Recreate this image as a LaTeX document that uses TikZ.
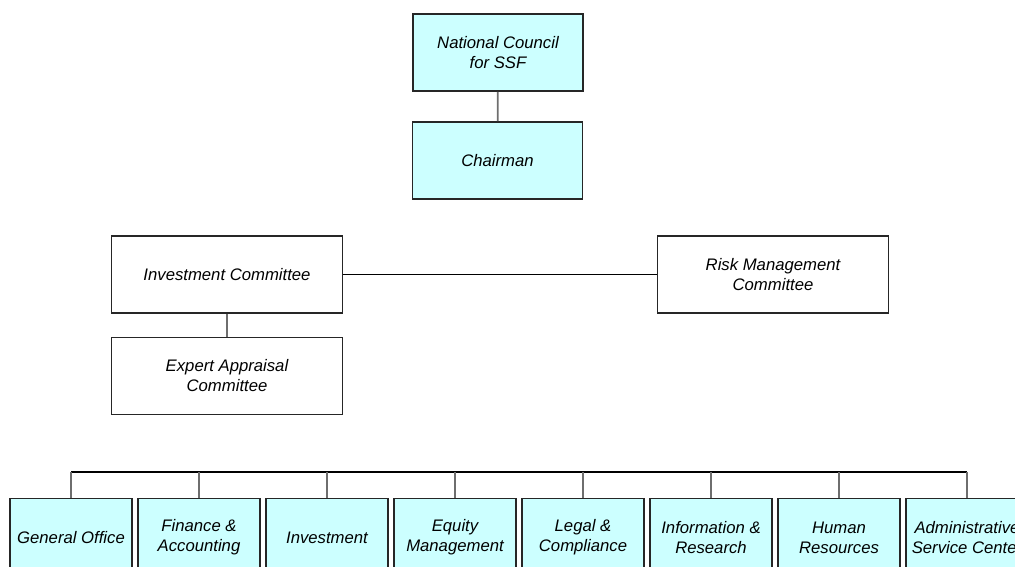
\documentclass[tikz,border=0pt]{standalone}
\usepackage{fontspec}
\setmainfont{Liberation Sans}
\usepackage{tikz}
\usetikzlibrary{positioning}
\usetikzlibrary{calc}
\definecolor{paleCyan}{HTML}{CCFFFF}
\definecolor{linkGray}{HTML}{6E6E6E}
\tikzset{
  % Common styles for the chart
  unit/.style={draw=black!85, line width=1.6pt, rectangle, inner sep=0pt, align=center,
    font=\fontsize{16.7}{20}\selectfont\itshape},
  office/.style={unit, fill=paleCyan},
  branch/.style={draw=linkGray, line width=1.7pt},
  rail/.style={draw=black, line width=1.3pt}
}

\begin{document}
\begin{tikzpicture}[x=1pt, y=-1pt]
    \useasboundingbox (0,0) rectangle (1015,567);
    \clip (0,0) rectangle (1015,567);
    % Define styles
    \tikzstyle{top} = [office, minimum width=170pt, minimum height=77pt]
    \tikzstyle{committee} = [unit, minimum width=231pt, minimum height=77pt]
    \tikzstyle{dept} = [office, minimum width=122pt, minimum height=78pt]

    % Place nodes
    \node [top] (council) at (498,52.5) {National Council\\for SSF};
    \node [top] (chair) at (497.5,160.5) {Chairman};
    \node [committee] (invest) at (227,274.5) {Investment Committee};
    \node [committee] (expert) at (227,376) {Expert Appraisal\\Committee};
    \node [committee] (risk) at (773,274.5) {Risk Management\\Committee};
    \node [dept] (general) at (71,537.5) {General Office};
    \node [dept, right=4.4pt of general] (finance) {Finance \&\\Accounting};
    \node [dept, right=4.4pt of finance] (investment) {Investment};
    \node [dept, right=4.4pt of investment] (equity) {Equity\\Management};
    \node [dept, right=4.4pt of equity] (legal) {Legal \&\\Compliance};
    \node [dept, right=4.4pt of legal] (info) {Information \&\\Research};
    \node [dept, right=4.4pt of info] (human) {Human\\Resources};
    \node [dept, right=4.4pt of human] (admin) {Administrative\\Service Center};
    \coordinate (bus) at (496,472);

    % Draw edges
    \path [branch] (council) -- (chair);
    \path [branch] ($(chair.south)+(-1.5,0)$) -- ($(chair.south)+(-1.5,0)$ |- bus);
    \path [rail] (invest.east) -- (risk.west);
    \path [branch] (invest) -- (expert);
    \path [rail] (general.north |- bus) -- (admin.north |- bus);
    \foreach \d in {general, finance, investment, equity, legal, info, human, admin}
      \path [branch] (\d.north |- bus) -- (\d.north);

\end{tikzpicture}
\end{document}
